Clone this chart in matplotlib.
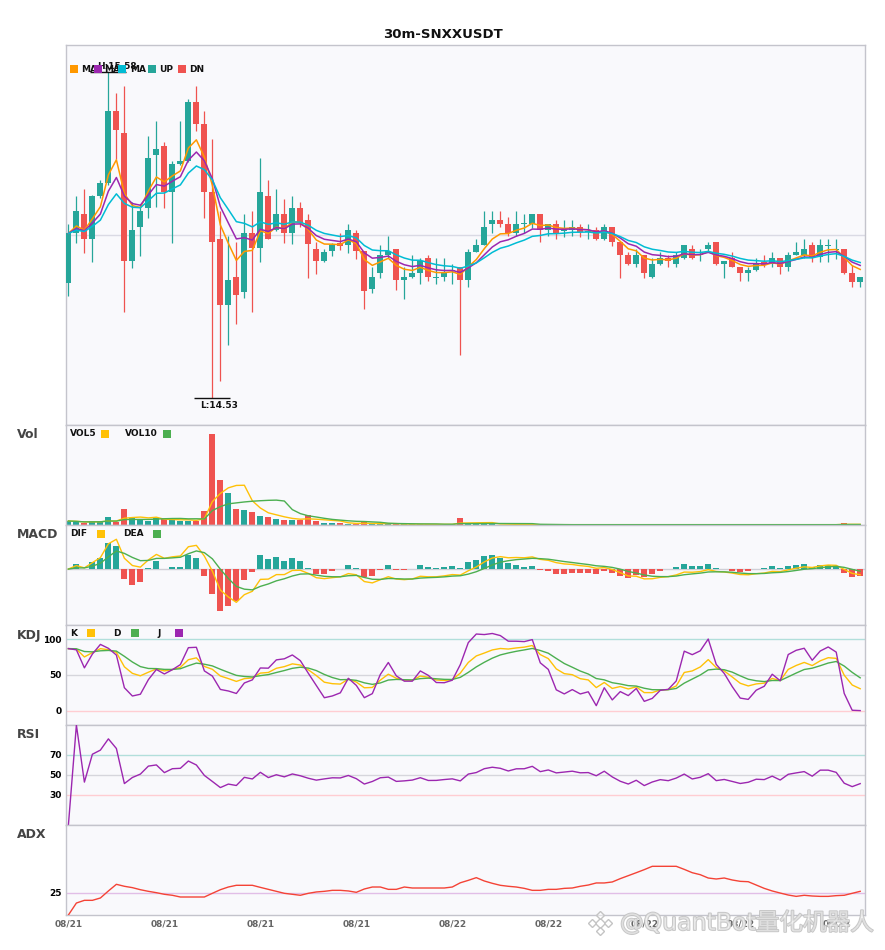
import numpy as np
import pandas as pd
import matplotlib
matplotlib.use("Agg")
import matplotlib.pyplot as plt
import matplotlib.patheffects as pe
from matplotlib.patches import Rectangle

plt.rcParams['font.family'] = ['DejaVu Sans', 'Noto Sans CJK SC']

title = "30m-SNXXUSDT"

opens = [14.900, 15.061, 15.122, 15.042, 15.180, 15.223, 15.453, 15.383, 14.971, 15.081,
         15.142, 15.313, 15.341, 15.194, 15.283, 15.292, 15.482, 15.412, 15.194, 15.041,
         14.830, 14.919, 14.871, 15.059, 15.011, 15.180, 15.070, 15.122, 15.061, 15.141,
         15.102, 15.009, 14.971, 15.001, 15.027, 15.023, 15.061, 15.001, 14.881, 14.933,
         14.990, 15.009, 14.910, 14.919, 14.932, 14.980, 14.917, 14.919, 14.939, 14.950,
         14.910, 15.000, 15.022, 15.091, 15.103, 15.090, 15.061, 15.089, 15.090, 15.122,
         15.070, 15.090, 15.067, 15.070, 15.079, 15.065, 15.070, 15.041, 15.080, 15.032,
         14.990, 14.961, 14.990, 14.919, 14.961, 14.980, 14.961, 14.980, 15.009, 14.990,
         15.009, 15.032, 14.961, 14.980, 14.952, 14.933, 14.941, 14.968, 14.961, 14.980,
         14.952, 14.990, 14.990, 15.022, 14.984, 15.020, 15.007, 15.009, 14.932, 14.901]
highs = [15.089, 15.180, 15.202, 15.183, 15.231, 15.580, 15.510, 15.534, 15.161, 15.153,
         15.373, 15.421, 15.352, 15.292, 15.421, 15.492, 15.534, 15.453, 15.363, 15.131,
         15.051, 15.032, 15.122, 15.131, 15.302, 15.231, 15.202, 15.170, 15.180, 15.160,
         15.122, 15.032, 15.009, 15.027, 15.060, 15.090, 15.070, 15.001, 14.950, 15.022,
         15.051, 15.009, 14.950, 14.990, 14.979, 14.990, 14.980, 14.980, 14.960, 14.952,
         15.009, 15.041, 15.132, 15.132, 15.132, 15.112, 15.132, 15.122, 15.122, 15.122,
         15.090, 15.103, 15.103, 15.103, 15.090, 15.090, 15.080, 15.090, 15.080, 15.032,
         15.000, 15.009, 14.990, 14.980, 15.000, 14.990, 15.000, 15.022, 15.022, 15.009,
         15.031, 15.032, 14.970, 15.000, 14.952, 14.952, 14.980, 14.990, 15.000, 14.980,
         15.000, 15.032, 15.041, 15.031, 15.041, 15.041, 15.041, 15.009, 14.958, 14.919]
lows = [14.859, 15.029, 14.997, 14.968, 15.172, 15.215, 15.300, 14.807, 14.949, 14.987,
        15.110, 15.143, 15.140, 15.029, 15.279, 15.290, 15.389, 15.110, 14.530, 14.585,
        14.698, 14.768, 14.850, 14.807, 14.968, 15.040, 15.068, 15.029, 15.025, 15.081,
        14.917, 14.929, 14.968, 14.987, 15.006, 14.997, 14.977, 14.817, 14.868, 14.917,
        14.979, 14.878, 14.849, 14.915, 14.897, 14.907, 14.897, 14.907, 14.897, 14.666,
        14.888, 15.000, 15.022, 15.060, 15.080, 15.051, 15.051, 15.061, 15.078, 15.031,
        15.051, 15.040, 15.049, 15.051, 15.049, 15.041, 15.038, 15.038, 15.020, 14.917,
        14.958, 14.950, 14.917, 14.917, 14.958, 14.950, 14.950, 14.977, 14.977, 14.970,
        15.000, 14.958, 14.917, 14.952, 14.907, 14.907, 14.939, 14.950, 14.950, 14.929,
        14.939, 14.990, 14.980, 14.968, 14.968, 14.968, 14.977, 14.929, 14.888, 14.888]
closes = [15.059, 15.131, 15.042, 15.180, 15.223, 15.453, 15.393, 14.971, 15.070, 15.131,
          15.302, 15.331, 15.194, 15.283, 15.292, 15.482, 15.413, 15.194, 15.032, 14.830,
          14.909, 14.862, 15.059, 15.011, 15.194, 15.041, 15.122, 15.061, 15.141, 15.092,
          15.024, 14.971, 14.999, 15.023, 15.020, 15.070, 15.001, 14.872, 14.919, 14.990,
          15.002, 14.910, 14.919, 14.932, 14.970, 14.919, 14.920, 14.932, 14.941, 14.910,
          15.000, 15.022, 15.080, 15.103, 15.091, 15.061, 15.090, 15.091, 15.122, 15.070,
          15.090, 15.061, 15.070, 15.079, 15.065, 15.067, 15.041, 15.080, 15.032, 14.990,
          14.961, 14.990, 14.933, 14.961, 14.980, 14.970, 14.990, 15.022, 14.980, 14.993,
          15.022, 14.961, 14.970, 14.952, 14.933, 14.941, 14.961, 14.958, 14.980, 14.952,
          14.990, 15.000, 15.009, 14.980, 15.022, 15.022, 15.009, 14.932, 14.901, 14.919]
volumes = [1200, 1000, 600, 1000, 1000, 2400, 1000, 4800, 2000, 1700,
           1200, 2000, 1700, 1700, 1200, 1200, 1200, 4200, 27300, 13500,
           9600, 4800, 4500, 3900, 2700, 2400, 1800, 1500, 1500, 1500,
           3000, 1200, 600, 600, 600, 300, 300, 900, 300, 300,
           300, 300, 200, 200, 200, 200, 200, 200, 200, 2100,
           400, 400, 400, 300, 100, 100, 100, 100, 100, 100,
           100, 100, 100, 100, 100, 100, 100, 100, 100, 100,
           100, 100, 100, 100, 100, 100, 100, 100, 100, 100,
           100, 100, 100, 100, 100, 100, 100, 100, 100, 100,
           100, 100, 100, 100, 100, 100, 100, 600, 100, 100]
adx_values = [0.0, 13.3, 16.3, 16.3, 18.9, 26.7, 34.1, 31.9, 30.4, 28.1,
              26.3, 24.8, 23.0, 21.9, 20.0, 20.0, 20.0, 20.0, 24.1, 28.1,
              31.1, 33.0, 33.0, 33.0, 30.7, 28.5, 26.3, 24.1, 23.0, 21.9,
              24.1, 25.6, 26.3, 27.4, 27.4, 26.7, 25.2, 28.9, 31.1, 31.1,
              28.5, 28.5, 31.1, 30.0, 30.0, 30.0, 30.0, 30.0, 31.1, 35.8,
              38.5, 41.5, 37.8, 35.2, 33.0, 31.9, 31.1, 29.6, 27.4, 27.4,
              28.5, 28.5, 29.6, 30.0, 31.9, 33.3, 35.6, 35.6, 36.7, 40.4,
              43.7, 47.0, 50.4, 54.1, 54.1, 54.1, 54.1, 50.7, 47.0, 44.8,
              41.1, 40.0, 41.1, 38.9, 37.4, 37.0, 33.3, 29.6, 26.7, 24.4,
              22.2, 20.7, 21.9, 21.1, 20.7, 20.7, 21.5, 21.9, 24.1, 26.3]
tick_positions = [0, 12, 24, 36, 48, 60, 72, 84, 96]
tick_labels = ["08/21", "08/21", "08/21", "08/21", "08/22", "08/22", "08/22", "08/22", "08/22"]
ma_spans = [5, 8, 13]
macd_params = (6, 13, 5)

TEAL = '#26a69a'
RED = '#ef5350'
MA_COLORS = ['#ff9800', '#9c27b0', '#00bcd4']
YEL = '#ffc107'
GRN = '#4caf50'
PUR = '#9c27b0'
BG = '#f9f9fc'
SPINE = '#c4c4cc'

o = np.array(opens); h = np.array(highs); l = np.array(lows); c = np.array(closes)
v = np.array(volumes, dtype=float)
n = len(c)
x = np.arange(n)
cs = pd.Series(c)
up = c >= o
colors = np.where(up, TEAL, RED)

# indicators
mas = [cs.ewm(span=s, adjust=False).mean() for s in ma_spans]
vol5 = pd.Series(v).rolling(5, min_periods=1).mean()
vol10 = pd.Series(v).rolling(10, min_periods=1).mean()
ema_f = cs.ewm(span=macd_params[0], adjust=False).mean()
ema_s = cs.ewm(span=macd_params[1], adjust=False).mean()
dif = ema_f - ema_s
dea = dif.ewm(span=macd_params[2], adjust=False).mean()
hist = 2 * (dif - dea)
llv = pd.Series(l).rolling(9, min_periods=1).min()
hhv = pd.Series(h).rolling(9, min_periods=1).max()
rsv = ((cs - llv) / (hhv - llv) * 100).fillna(50)
K = rsv.ewm(com=2, adjust=False).mean()
D = K.ewm(com=2, adjust=False).mean()
J = 3 * K - 2 * D
diff = cs.diff()
gain = diff.clip(lower=0)
rsi = (gain.ewm(com=13, adjust=True).mean() / diff.abs().ewm(com=13, adjust=True).mean() * 100).fillna(0)

FW, FH = 885, 950
fig = plt.figure(figsize=(FW / 100, FH / 100), dpi=100)
fig.patch.set_facecolor('white')

def fx(px):
    return px / FW

def fy(py):
    return 1 - py / FH

def add_panel(top, bot):
    ax = fig.add_axes([fx(66), fy(bot), fx(865) - fx(66), (bot - top) / FH])
    ax.set_facecolor(BG)
    for s in ax.spines.values():
        s.set_color(SPINE)
        s.set_linewidth(1.0)
    ax.set_xlim(-0.3, n - 0.4)
    ax.tick_params(axis='both', length=0, labelsize=6.5, pad=3)
    ax.set_xticks([])
    ax.set_yticks([])
    return ax

ax_main = add_panel(45, 425)
ax_vol = add_panel(425, 525)
ax_macd = add_panel(525, 625)
ax_kdj = add_panel(625, 725)
ax_rsi = add_panel(725, 825)
ax_adx = add_panel(825, 915)

fig.text(0.5, fy(34), title, ha='center', va='center', fontsize=9.5, fontweight='bold', color='#111111')

# ---- main candles
pmin, pmax = l.min(), h.max()
rng = pmax - pmin
ax_main.set_ylim(pmin - 0.084 * rng, pmax + 0.082 * rng)
ax_main.axhline((pmax + pmin) / 2, color='#dadae4', lw=1.0, zorder=1)
ax_main.vlines(x, l, h, colors=colors, lw=0.9, zorder=2)
body_bot = np.minimum(o, c)
body_h = np.maximum(np.abs(c - o), 0.0025)
ax_main.bar(x, body_h, 0.75, bottom=body_bot, color=colors, zorder=3, linewidth=0)
for ma, col in zip(mas, MA_COLORS):
    ax_main.plot(x, ma, color=col, lw=1.1, zorder=4)

ih = int(np.argmax(h)); il = int(np.argmin(l))
ax_main.hlines(h[ih], ih - 2.25, ih + 2.25, color='#111111', lw=1.0, zorder=5)
ax_main.annotate(f"H:{h[ih]:.2f}", xy=(ih, h[ih]), xytext=(-11, 1), textcoords='offset pixels',
                 ha='left', va='bottom', fontsize=6.5, fontweight='bold', color='#111111', zorder=6)
ax_main.hlines(l[il], il - 2.25, il + 2.25, color='#111111', lw=1.0, zorder=5)
ax_main.annotate(f"L:{l[il]:.2f}", xy=(il, l[il]), xytext=(-12, -3), textcoords='offset pixels',
                 ha='left', va='top', fontsize=6.5, fontweight='bold', color='#111111', zorder=6)

def square(xsq, ycen, color):
    fig.patches.append(Rectangle((fx(xsq), fy(ycen + 4)), 8 / FW, 8 / FH, transform=fig.transFigure,
                                 facecolor=color, edgecolor='none', zorder=10))

def label(xtxt, ycen, text):
    fig.text(fx(xtxt), fy(ycen), text, ha='left', va='center', fontsize=6.5,
             fontweight='bold', color='#111111', zorder=9)

for xs, col, lab, xt in [(70, MA_COLORS[0], 'MA', 81), (94, MA_COLORS[1], 'MA', 104),
                         (118, MA_COLORS[2], 'MA', 130), (148, TEAL, 'UP', 159), (178, RED, 'DN', 189)]:
    square(xs, 69, col)
    label(xt, 69, lab)

# ---- volume
ax_vol.bar(x, v, 0.75, color=colors, linewidth=0, zorder=2)
ax_vol.plot(x, vol5, color=YEL, lw=1.0, zorder=3)
ax_vol.plot(x, vol10, color=GRN, lw=1.0, zorder=3)
ax_vol.set_ylim(0, v.max() * 1.1)
label(70, 434, 'VOL5'); square(101, 434, YEL)
label(125, 434, 'VOL10'); square(163, 434, GRN)

# ---- MACD
ax_macd.axhline(0, color='#cfcfd6', lw=1.0, zorder=1)
hcol = np.where(hist >= 0, TEAL, RED)
ax_macd.bar(x, hist, 0.75, color=hcol, linewidth=0, zorder=2)
ax_macd.plot(x, dif, color=YEL, lw=1.0, zorder=3)
ax_macd.plot(x, dea, color=GRN, lw=1.0, zorder=3)
allm = np.concatenate([dif.values, dea.values, hist.values])
mn, mx = allm.min(), allm.max()
r = mx - mn
ax_macd.set_ylim(mn - 0.2 * r, mx + 0.2 * r)
label(70, 534, 'DIF'); square(97, 534, YEL)
label(123, 534, 'DEA'); square(153, 534, GRN)

# ---- KDJ
ax_kdj.set_ylim(-20, 120)
ax_kdj.axhline(100, color='#b2dfdb', lw=1.0, zorder=1)
ax_kdj.axhline(50, color='#d6d6dc', lw=1.0, zorder=1)
ax_kdj.axhline(0, color='#ffcdd2', lw=1.0, zorder=1)
ax_kdj.plot(x, K, color=YEL, lw=1.0, zorder=3)
ax_kdj.plot(x, D, color=GRN, lw=1.0, zorder=3)
ax_kdj.plot(x, J, color=PUR, lw=1.0, zorder=3)
ax_kdj.set_yticks([0, 50, 100])
ax_kdj.set_yticklabels(['0', '50', '100'], fontweight='bold')
label(70, 633, 'K'); square(87, 633, YEL)
label(113, 633, 'D'); square(131, 633, GRN)
label(157, 633, 'J'); square(175, 633, PUR)

# ---- RSI
ax_rsi.set_ylim(0, 100)
ax_rsi.axhline(70, color='#b2dfdb', lw=1.0, zorder=1)
ax_rsi.axhline(50, color='#d6d6dc', lw=1.0, zorder=1)
ax_rsi.axhline(30, color='#ffcdd2', lw=1.0, zorder=1)
ax_rsi.plot(x, rsi, color=PUR, lw=1.0, zorder=3)
ax_rsi.set_yticks([30, 50, 70])
ax_rsi.set_yticklabels(['30', '50', '70'], fontweight='bold')

# ---- ADX
ax_adx.set_ylim(0, 100)
ax_adx.axhline(25, color='#e1bee7', lw=1.0, zorder=1)
ax_adx.plot(x, adx_values, color='#f44336', lw=1.0, zorder=3)
ax_adx.set_yticks([25])
ax_adx.set_yticklabels(['25'], fontweight='bold')
ax_adx.set_xticks(tick_positions)
ax_adx.set_xticklabels(tick_labels, fontweight='bold', color='#666666', fontsize=6.5)
ax_adx.tick_params(axis='x', pad=3)

# panel titles
for name, ytop in [('Vol', 435), ('MACD', 535), ('KDJ', 635), ('RSI', 735), ('ADX', 835)]:
    fig.text(fx(17), fy(ytop), name, ha='left', va='center', fontsize=9, fontweight='bold', color='#444444')

# watermark overlay (pixel coordinates)
wm = fig.add_axes([0, 0, 1, 1], zorder=20)
wm.set_xlim(0, FW)
wm.set_ylim(FH, 0)
wm.axis('off')
wm.patch.set_alpha(0)
logo_x, logo_y = 600, 923
for dx, dy, s in [(0, 0, 5.5), (-8, 0, 4.5), (8, 0, 4.5), (0, -8, 4.5), (0, 8, 4.5)]:
    wm.plot(logo_x + dx, logo_y + dy, marker='D', markersize=s, markerfacecolor=(1, 1, 1, 0.5),
            markeredgecolor='#c4c4c4', markeredgewidth=1.0)
wm.text(620, 923, '@QuantBot量化机器人', ha='left', va='center', fontsize=17,
        color=(1, 1, 1, 0.45), family=['DejaVu Sans', 'Noto Sans CJK SC'],
        path_effects=[pe.Stroke(linewidth=1.3, foreground='#c0c0c0', alpha=0.9), pe.Normal()])

fig.savefig('out.png', dpi=100)
